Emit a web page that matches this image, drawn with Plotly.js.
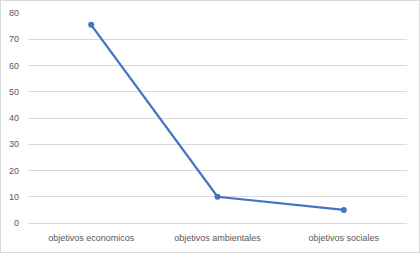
<!DOCTYPE html>
<html>
<head>
<meta charset="utf-8">
<script src="https://cdn.plot.ly/plotly-3.0.1.min.js"></script>
<style>
html,body{margin:0;padding:0;background:#fff;}
#chart{width:420px;height:253px;box-sizing:border-box;border:1px solid #d9d9d9;}
</style>
</head>
<body>
<div id="chart"></div>
<script>
const categories = ["objetivos economicos", "objetivos ambientales", "objetivos sociales"];
const values = [75.5, 10, 5];
const yTicks = [0, 10, 20, 30, 40, 50, 60, 70, 80];

const trace = {
  x: categories,
  y: values,
  type: "scatter",
  mode: "lines+markers",
  line: {color: "#4472C4", width: 2.25},
  marker: {color: "#4472C4", size: 6},
  hoverinfo: "none"
};

const layout = {
  width: 418,
  height: 251,
  margin: {l: 27, r: 12, t: 12, b: 29},
  paper_bgcolor: "#fff",
  plot_bgcolor: "#fff",
  showlegend: false,
  font: {family: "Liberation Sans, Arial, sans-serif", size: 9, color: "#595959"},
  xaxis: {
    type: "category",
    range: [-0.5, 2.5],
    showgrid: false,
    zeroline: false,
    showline: false,
    ticks: "",
    ticklabelstandoff: 8,
    tickfont: {size: 9, color: "#595959"}
  },
  yaxis: {
    range: [0, 80],
    tickvals: yTicks,
    ticktext: yTicks.map(String),
    showgrid: true,
    gridcolor: "#d9d9d9",
    gridwidth: 1,
    zeroline: true,
    zerolinecolor: "#d9d9d9",
    zerolinewidth: 1,
    showline: false,
    ticks: "",
    ticklabelstandoff: 8,
    tickfont: {size: 9, color: "#595959"}
  }
};

Plotly.newPlot("chart", [trace], layout, {displayModeBar: false, staticPlot: true});
</script>
</body>
</html>
